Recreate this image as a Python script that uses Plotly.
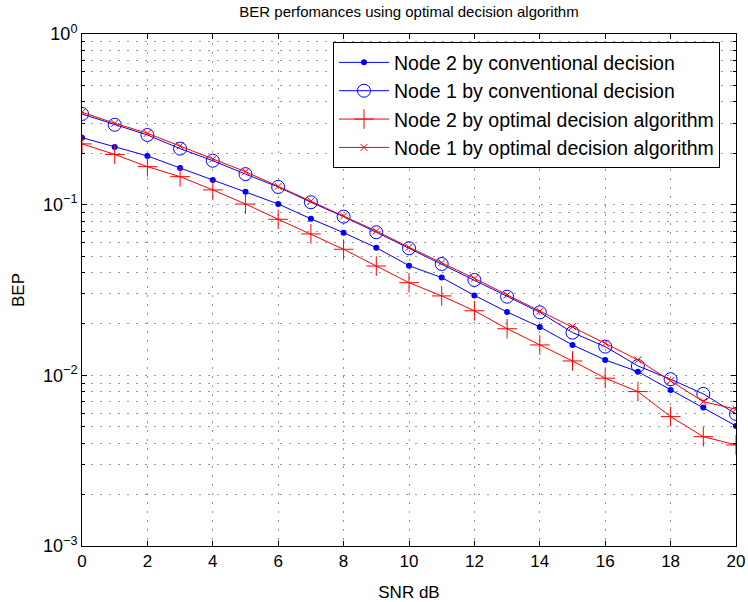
import plotly.graph_objects as go

snr = list(range(0, 21))

node2_conv = [0.247, 0.218, 0.193, 0.164, 0.1396, 0.1192, 0.1009, 0.0827, 0.0685, 0.0560,
              0.0439, 0.0374, 0.0294, 0.0235, 0.0192, 0.01507, 0.01231, 0.01051, 0.00821,
              0.00647, 0.00505]
node1_conv = [0.340, 0.294, 0.256, 0.213, 0.181, 0.151, 0.127, 0.1033, 0.0851, 0.0689,
              0.0555, 0.0449, 0.0362, 0.0289, 0.0234, 0.0178, 0.01473, 0.01135, 0.00949,
              0.00778, 0.00594]
node2_opt = [0.227, 0.197, 0.167, 0.1459, 0.1220, 0.1009, 0.0821, 0.0674, 0.0548, 0.0437,
             0.0349, 0.0292, 0.0239, 0.01875, 0.01507, 0.01214, 0.00962, 0.00803, 0.00573,
             0.00437, 0.00391]
node1_opt = [0.348, 0.300, 0.262, 0.221, 0.185, 0.156, 0.128, 0.1051, 0.0859, 0.0701,
             0.0563, 0.0457, 0.0370, 0.0296, 0.0238, 0.0193, 0.0154, 0.0123, 0.00931,
             0.00701, 0.00633]

names = ["Node 2 by conventional decision", "Node 1 by conventional decision",
         "Node 2 by optimal decision algorithm", "Node 1 by optimal decision algorithm"]

x_ticks = list(range(0, 21, 2))
y_ticks = [0.001, 0.01, 0.1, 1]
y_ticktext = ["10<sup>−3</sup>", "10<sup>−2</sup>", "10<sup>−1</sup>", "10<sup>0</sup>"]
minor_vals = [m * d for d in [0.001, 0.01, 0.1] for m in range(2, 10)]

BLUE = "rgb(0,0,255)"
RED = "rgb(255,0,0)"

fig = go.Figure()
fig.add_trace(go.Scatter(x=snr, y=node2_conv, name=names[0], mode="lines+markers",
                         line=dict(color=BLUE, width=1),
                         marker=dict(symbol="circle", size=6, color=BLUE)))
fig.add_trace(go.Scatter(x=snr, y=node1_conv, name=names[1], mode="lines+markers",
                         line=dict(color=BLUE, width=1),
                         marker=dict(symbol="circle-open", size=13, color=BLUE,
                                     line=dict(width=1, color=BLUE))))
fig.add_trace(go.Scatter(x=snr, y=node2_opt, name=names[2], mode="lines+markers",
                         line=dict(color=RED, width=1),
                         marker=dict(symbol="cross-thin-open", size=14, color=RED,
                                     line=dict(width=1, color=RED))))
fig.add_trace(go.Scatter(x=snr, y=node1_opt, name=names[3], mode="lines+markers",
                         line=dict(color=RED, width=1),
                         marker=dict(symbol="x-thin-open", size=7, color=RED,
                                     line=dict(width=1, color=RED))))

grid = "rgb(150,150,150)"
gdash = "2px,7px"
fig.update_layout(
    width=748, height=602,
    margin=dict(l=82, r=12, t=34, b=56),
    paper_bgcolor="white", plot_bgcolor="white",
    font=dict(family="Liberation Sans, Arial, sans-serif", color="black", size=16),
    title=dict(text="BER perfomances using optimal decision algorithm",
               x=(82 + 736) / 2 / 748, xanchor="center", y=1 - 12 / 602, yanchor="middle",
               font=dict(size=15)),
    showlegend=True,
    legend=dict(x=0.9755, xanchor="right", y=0.984, yanchor="top",
                bgcolor="white", bordercolor="black", borderwidth=1,
                font=dict(size=19.5), tracegroupgap=0, itemwidth=50),
    xaxis=dict(range=[0, 20], tickvals=x_ticks, showline=True, mirror="allticks",
               linecolor="black", linewidth=1, ticks="inside", ticklen=5,
               tickcolor="black", showgrid=True, gridcolor=grid, griddash=gdash,
               gridwidth=1, zeroline=False, tickfont=dict(size=17), automargin=False,
               title=dict(text="SNR dB", font=dict(size=17), standoff=15)),
    yaxis=dict(type="log", range=[-3, 0], tickvals=y_ticks, ticktext=y_ticktext,
               showline=True, mirror="allticks", linecolor="black", linewidth=1,
               ticks="inside", ticklen=5, tickcolor="black", showgrid=True,
               gridcolor=grid, griddash=gdash, gridwidth=1, zeroline=False,
               tickfont=dict(size=18), automargin=False,
               title=dict(text="BEP", font=dict(size=17), standoff=14),
               minor=dict(tickvals=minor_vals, ticks="inside", ticklen=3,
                          tickcolor="black", showgrid=True, gridcolor=grid,
                          griddash=gdash, gridwidth=1)),
)

fig.write_html("out.html")
